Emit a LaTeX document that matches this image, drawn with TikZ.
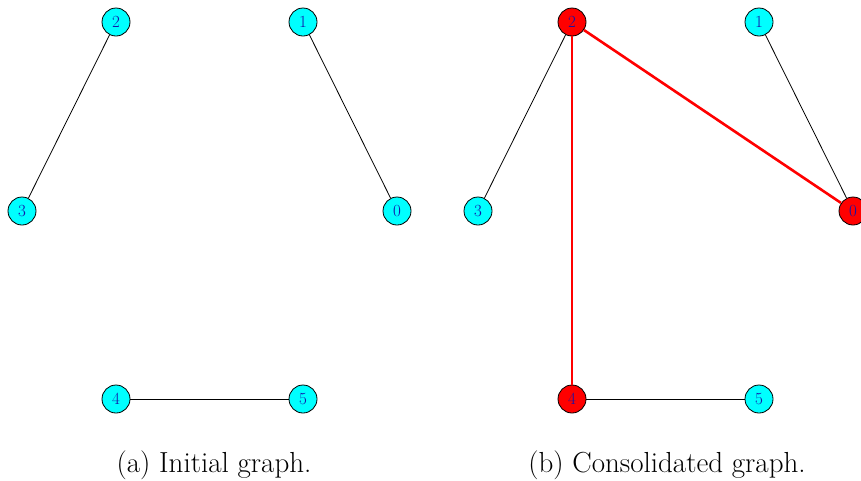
\documentclass[tikz,border=0pt]{standalone}
\definecolor{labelblue}{RGB}{20,20,170}
\definecolor{nodecyan}{RGB}{0,255,255}
\definecolor{nodered}{RGB}{255,0,0}
\begin{document}
\begin{tikzpicture}[x=1pt, y=-1pt,
  vert/.style={circle, draw=black, line width=0.8pt, fill=nodecyan, minimum size=28pt, inner sep=0pt, text=labelblue, font=\fontsize{17}{17}\selectfont},
  hot/.style={vert, fill=nodered},
  edge/.style={draw=black, line width=0.8pt},
  hotedge/.style={draw=nodered, line width=2.6pt},
  captext/.style={font=\fontsize{29}{33}\selectfont}]
  \clip (0,0) rectangle (861,480);
  \useasboundingbox (0,0) rectangle (861,480);
  % (a) initial graph
  \node[vert] (a2) at (116,22) {2};
  \node[vert] (a1) at (303,22) {1};
  \node[vert] (a3) at (22,211) {3};
  \node[vert] (a0) at (397,211) {0};
  \node[vert] (a4) at (116,399) {4};
  \node[vert] (a5) at (303,399) {5};
  \draw[edge] (a2) -- (a3);
  \draw[edge] (a1) -- (a0);
  \draw[edge] (a4) -- (a5);
  \node[captext] (capa) at (214,465) {(a) Initial graph.};
  % (b) consolidated graph
  \node[hot] (b2) at (572,22) {2};
  \node[vert] (b1) at (759,22) {1};
  \node[vert] (b3) at (478,211) {3};
  \node[hot] (b0) at (853,211) {0};
  \node[hot] (b4) at (572,399) {4};
  \node[vert] (b5) at (759,399) {5};
  \draw[edge] (b2) -- (b3);
  \draw[edge] (b1) -- (b0);
  \draw[edge] (b4) -- (b5);
  \draw[hotedge] (b2) -- (b0);
  \draw[hotedge] (b2) -- (b4);
  \node[captext] (capb) at (667,465) {(b) Consolidated graph.};
\end{tikzpicture}
\end{document}
